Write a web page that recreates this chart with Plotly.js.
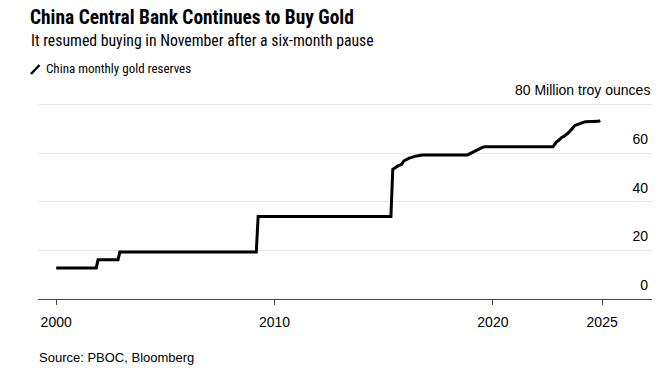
<!DOCTYPE html>
<html>
<head>
<meta charset="utf-8">
<script src="https://cdn.plot.ly/plotly-3.0.1.min.js"></script>
<style>html,body{margin:0;padding:0;background:#fff;}#chart{width:663px;height:373px;}</style>
</head>
<body>
<div id="chart"></div>
<script>
// China monthly gold reserves, million troy ounces
const months = [
  '2000-01-01','2001-11-01','2001-12-01','2002-11-01','2002-12-01',
  '2009-03-01','2009-04-01','2015-05-01','2015-06-01','2015-07-01',
  '2015-08-01','2015-09-01','2015-10-01','2015-11-01','2015-12-01',
  '2016-01-01','2016-02-01','2016-03-01','2016-04-01','2016-05-01',
  '2016-06-01','2016-07-01','2016-08-01','2016-09-01','2016-10-01',
  '2018-11-01','2018-12-01','2019-01-01','2019-02-01','2019-03-01',
  '2019-04-01','2019-05-01','2019-06-01','2019-07-01','2019-08-01',
  '2019-09-01','2022-10-01','2022-11-01','2022-12-01','2023-01-01',
  '2023-02-01','2023-03-01','2023-04-01','2023-05-01','2023-06-01',
  '2023-07-01','2023-08-01','2023-09-01','2023-10-01','2023-11-01',
  '2023-12-01','2024-01-01','2024-02-01','2024-03-01','2024-04-01',
  '2024-10-01','2024-11-01','2024-12-01'
];
const reserves = [
  12.7, 12.7, 16.1, 16.1, 19.3,
  19.3, 33.9, 33.9, 53.3, 53.9,
  54.5, 54.8, 55.0, 55.4, 56.7,
  57.2, 57.5, 57.9, 58.1, 58.4,
  58.6, 58.8, 58.9, 59.0, 59.2,
  59.2, 59.6, 59.9, 60.3, 60.6,
  61.1, 61.6, 62.0, 62.2, 62.5,
  62.6, 62.6, 63.7, 64.6, 65.1,
  65.9, 66.5, 66.8, 67.3, 68.0,
  68.7, 69.6, 70.5, 71.2, 71.6,
  71.9, 72.2, 72.6, 72.7, 72.8,
  72.8, 73.0, 73.3
];
const xTickVals = ['2000-01-01','2010-01-01','2020-01-01','2025-01-01'];
const xTickText = ['2000','2010','2020','2025'];
const yTickVals = [0, 20, 40, 60, 80];
const yTickText = ['0', '20', '40', '60', ''];   // top label drawn with its unit below
const yTopLabel = '80 Million troy ounces';

const W = 663, H = 373;
const M = {l: 38, r: 11, t: 80, b: 74};
const PW = W - M.l - M.r, PH = H - M.t - M.b;
const px = x => (x - M.l) / PW;
const py = y => 1 + (M.t - y) / PH;

const cond = '"Roboto Condensed", "Liberation Sans", Arial, sans-serif';
const sans = '"Liberation Sans", Arial, Helvetica, sans-serif';

const trace = {
  x: months, y: reserves, type: 'scatter', mode: 'lines',
  line: {color: '#000', width: 3}, hoverinfo: 'skip', showlegend: false
};

const layout = {
  width: W, height: H,
  margin: M,
  paper_bgcolor: '#fff', plot_bgcolor: '#fff',
  title: {
    text: '<b>China Central Bank Continues to Buy Gold</b>',
    font: {family: cond, size: 19.4, color: '#000'},
    xref: 'container', yref: 'container',
    x: 30 / W, xanchor: 'left', y: 1 - 17 / H, yanchor: 'middle'
  },
  xaxis: {
    type: 'date', range: ['1999-03-03', '2027-04-15'],
    tickvals: xTickVals, ticktext: xTickText,
    showgrid: false, zeroline: false,
    showline: true, linecolor: '#444', linewidth: 1,
    ticks: 'outside', ticklen: 5, tickcolor: '#444', tickwidth: 1,
    ticklabelstandoff: 5,
    tickfont: {family: sans, size: 14, color: '#000'},
    fixedrange: true
  },
  yaxis: {
    range: [0, 90], side: 'right',
    tickvals: yTickVals, ticktext: yTickText,
    ticklabelposition: 'inside', ticklabelshift: -14, ticklabelstandoff: 1,
    ticks: '', showgrid: true, gridcolor: '#e6e6e6', gridwidth: 1,
    zeroline: false, showline: false,
    tickfont: {family: sans, size: 14, color: '#000'},
    fixedrange: true
  },
  shapes: [{
    type: 'line', xref: 'paper', yref: 'paper',
    x0: px(31), y0: py(74), x1: px(39.5), y1: py(65),
    line: {color: '#000', width: 2.5}
  }],
  annotations: [
    {text: yTopLabel,
     xref: 'paper', yref: 'y', x: px(651), y: yTickVals[4], yshift: 14, xanchor: 'right', yanchor: 'middle',
     showarrow: false, borderpad: 0, font: {family: sans, size: 14, color: '#000'}},
    {text: 'It resumed buying in November after a six-month pause',
     xref: 'paper', yref: 'paper', x: px(29), y: py(40), xanchor: 'left', yanchor: 'middle',
     showarrow: false, font: {family: cond, size: 15.75, color: '#000'}},
    {text: 'China monthly gold reserves',
     xref: 'paper', yref: 'paper', x: px(44), y: py(69), xanchor: 'left', yanchor: 'middle',
     showarrow: false, font: {family: cond, size: 13, color: '#000'}},
    {text: 'Source: PBOC, Bloomberg',
     xref: 'paper', yref: 'paper', x: px(37), y: py(357), xanchor: 'left', yanchor: 'middle',
     showarrow: false, font: {family: sans, size: 13, color: '#000'}}
  ]
};

Plotly.newPlot('chart', [trace], layout, {displayModeBar: false, staticPlot: true});
</script>
</body>
</html>
